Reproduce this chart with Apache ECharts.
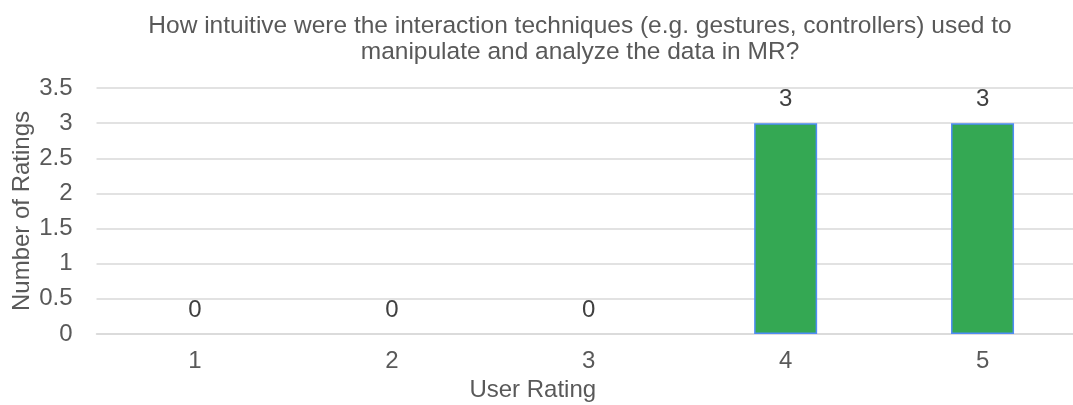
<!DOCTYPE html>
<html><head><meta charset="utf-8">
<script src="https://cdn.jsdelivr.net/npm/echarts@6/dist/echarts.min.js"></script>
<style>html,body{margin:0;padding:0;background:#fff;overflow:hidden}#c{width:1073px;height:405px}</style>
</head><body><div id="c"></div>
<script>
var categories = ['1', '2', '3', '4', '5'];
var ratings = [0, 0, 0, 3, 3];
var yTicks = [0, 0.5, 1, 1.5, 2, 2.5, 3, 3.5];
var titleText = 'How intuitive were the interaction techniques (e.g. gestures, controllers) used to\nmanipulate and analyze the data in MR?';

var chart = echarts.init(document.getElementById('c'));
var font = '"Liberation Sans", Arial, sans-serif';
var grey = '#595959';
chart.setOption({
  animation: false,
  textStyle: { fontFamily: font },
  title: {
    text: titleText,
    left: 575, top: 8, textAlign: 'center',
    textStyle: { fontFamily: font, fontSize: 24.5, fontWeight: 'normal', color: grey, lineHeight: 26 }
  },
  grid: { left: 96.5, right: -8, top: 88, bottom: 71, containLabel: false, outerBoundsMode: 'none' },
  xAxis: {
    type: 'category', data: categories,
    axisLine: { show: true, lineStyle: { color: '#d9d9d9', width: 1.5 } },
    axisTick: { show: false },
    axisLabel: { fontSize: 24, color: grey, margin: 15, fontFamily: font },
    name: 'User Rating', nameLocation: 'middle', nameGap: 44, nameMoveOverlap: false,
    nameTextStyle: { fontSize: 24, color: grey, fontFamily: font, padding: [0, 112, 0, 0] }
  },
  yAxis: {
    type: 'value', min: yTicks[0], max: yTicks[yTicks.length - 1], interval: 0.5,
    axisLine: { show: false }, axisTick: { show: false },
    splitLine: { lineStyle: { color: '#d9d9d9', width: 1.5 } },
    axisLabel: { fontSize: 24, color: grey, margin: 24, fontFamily: font },
    name: 'Number of Ratings', nameLocation: 'middle', nameGap: 62, nameMoveOverlap: false,
    nameTextStyle: { fontSize: 24, color: grey, fontFamily: font }
  },
  series: [{
    type: 'bar',
    data: ratings.map(function (v) { return v === 0 ? { value: v, itemStyle: { borderWidth: 0 } } : v; }),
    barWidth: '32%',
    itemStyle: { color: '#34a853', borderColor: '#4f8cf5', borderWidth: 1.5 },
    label: { show: true, position: 'top', distance: 12, fontSize: 24, color: '#404040', fontFamily: font }
  }]
});
</script></body></html>
